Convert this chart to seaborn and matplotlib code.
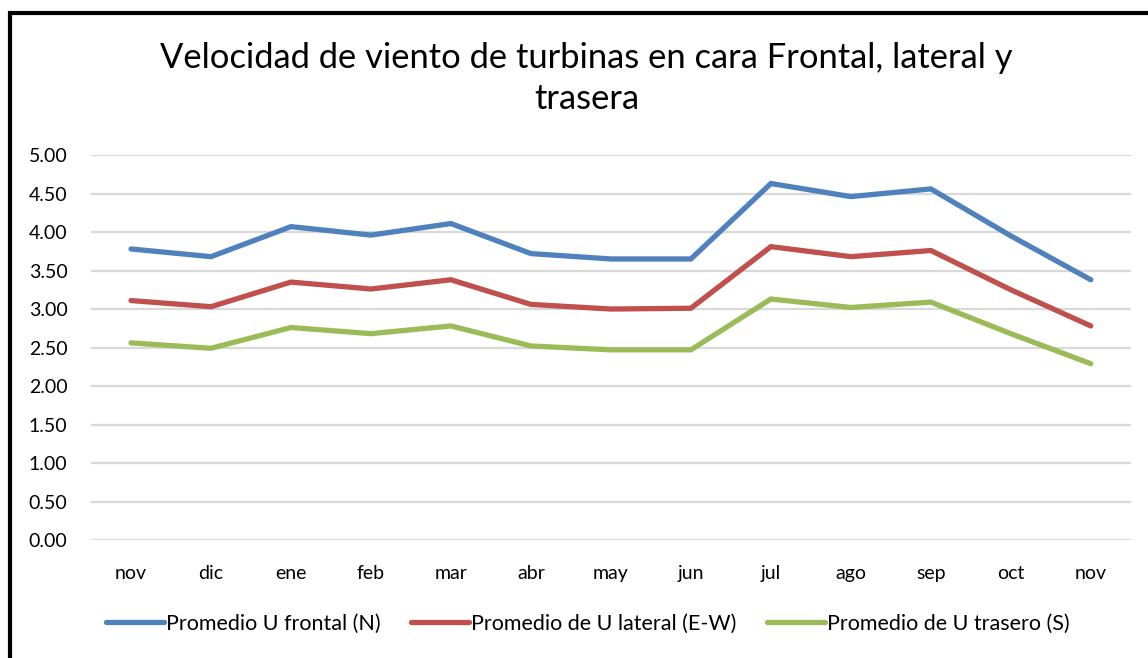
import matplotlib

matplotlib.use("Agg")
import matplotlib.pyplot as plt  # noqa: E402
import numpy as np  # noqa: E402
import pandas as pd  # noqa: E402
import seaborn as sns  # noqa: E402
from matplotlib.patches import Rectangle  # noqa: E402

months = ["nov", "dic", "ene", "feb", "mar", "abr", "may", "jun", "jul", "ago", "sep", "oct", "nov"]
frontal = [3.78, 3.68, 4.07, 3.96, 4.11, 3.72, 3.65, 3.65, 4.63, 4.46, 4.56, 3.95, 3.38]
lateral = [3.11, 3.03, 3.35, 3.26, 3.38, 3.06, 3.00, 3.01, 3.81, 3.68, 3.76, 3.25, 2.78]
trasero = [2.56, 2.49, 2.76, 2.68, 2.78, 2.52, 2.47, 2.47, 3.13, 3.02, 3.09, 2.68, 2.29]
series_names = ["Promedio U frontal (N)", "Promedio de U lateral (E-W)", "Promedio de U trasero (S)"]
colors = ["#4f81bd", "#c0504d", "#9bbb59"]

pos = np.arange(len(months))
df = pd.concat(
    [
        pd.DataFrame({"pos": pos, "valor": vals, "serie": name})
        for name, vals in zip(series_names, [frontal, lateral, trasero])
    ],
    ignore_index=True,
)

sns.set_style("white")
plt.rcParams["font.family"] = ["Lato", "DejaVu Sans"]
plt.rcParams["text.color"] = "black"

fig = plt.figure(figsize=(11.48, 6.58), dpi=100)
ax = fig.add_axes([0.0793, 0.1793, 0.9057, 0.5851])

sns.lineplot(
    data=df, x="pos", y="valor", hue="serie", hue_order=series_names,
    palette=colors, linewidth=3.8, ax=ax, legend=False, sort=False,
)
for line in ax.lines:
    line.set_solid_capstyle("round")
    line.set_solid_joinstyle("miter")

ax.set_xlim(-0.5, len(months) - 0.5)
ax.set_ylim(0, 5)
ax.set_yticks(np.arange(0, 5.01, 0.5))
ax.set_yticklabels([f"{v:.2f}" for v in np.arange(0, 5.01, 0.5)])
ax.set_xticks(pos)
ax.set_xticklabels(months)
ax.grid(axis="y", color="#d9d9d9", linewidth=1.6)
ax.set_axisbelow(True)
for s in ax.spines.values():
    s.set_visible(False)
ax.tick_params(axis="both", length=0, labelsize=14, colors="black")
ax.tick_params(axis="y", pad=17)
ax.tick_params(axis="x", pad=18)
ax.set_xlabel("")
ax.set_ylabel("")

fig.text(0.511, 0.881, "Velocidad de viento de turbinas en cara Frontal, lateral y\ntrasera",
         ha="center", va="center", fontsize=24.8, linespacing=1.33, color="black")

handles = [plt.Line2D([], [], color=c, linewidth=3.8, solid_capstyle="round") for c in colors]
fig.legend(handles, series_names, loc="center", bbox_to_anchor=(0.512, 1 - 624 / 658),
           ncol=3, frameon=False, fontsize=15.5, handlelength=2.7, handletextpad=0.1,
           columnspacing=1.4, labelcolor="black")

fig.patches.append(Rectangle((10 / 1148, -0.05), 1.2, 1 - 13 / 658 + 0.05,
                             transform=fig.transFigure, fill=False, edgecolor="black",
                             linewidth=3))

fig.savefig("out.png", dpi=100)
